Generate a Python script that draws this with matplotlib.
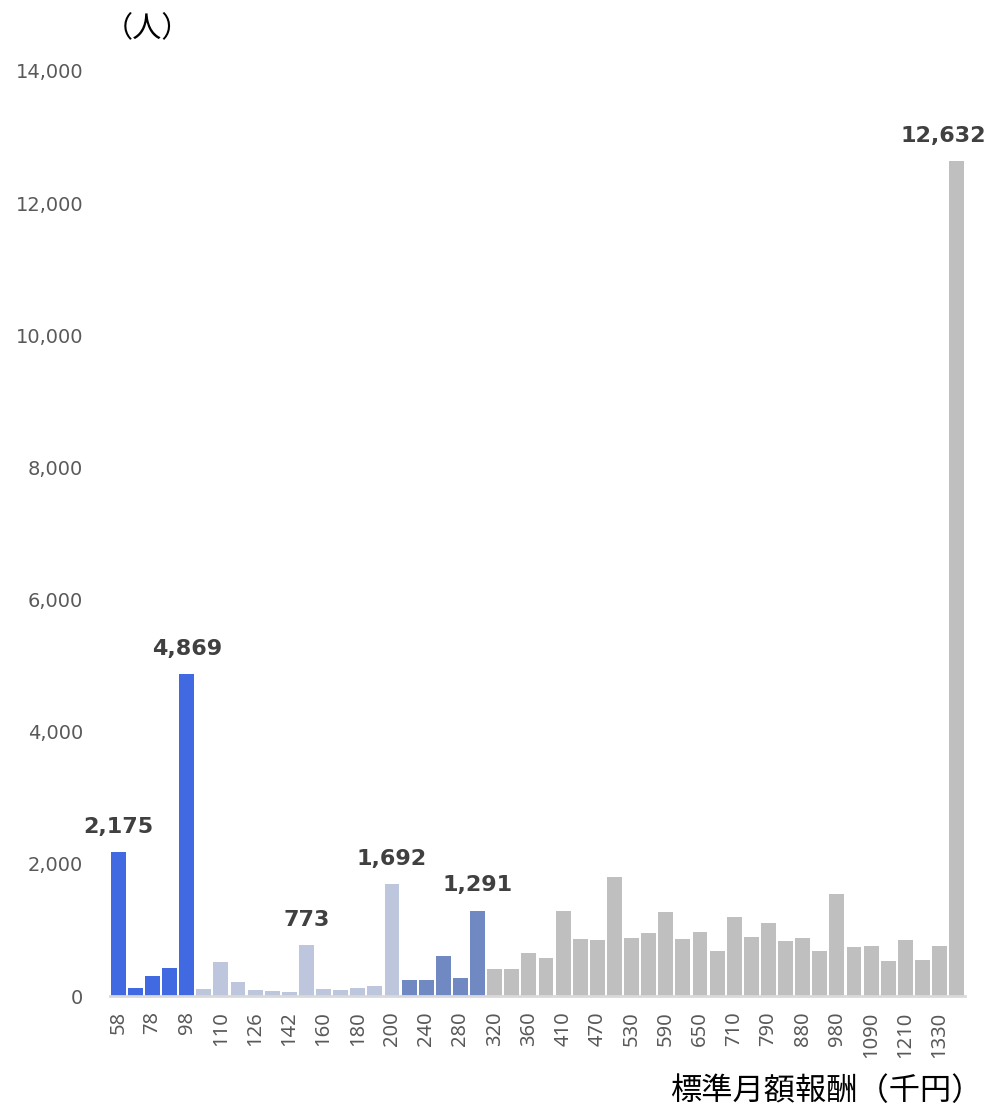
import matplotlib
matplotlib.use("Agg")
import matplotlib.pyplot as plt
import numpy as np

# 標準月額報酬の等級（千円）
grades = [58, 68, 78, 88, 98, 104, 110, 118, 126, 134, 142, 150, 160, 170,
          180, 190, 200, 220, 240, 260, 280, 300, 320, 340, 360, 380, 410,
          440, 470, 500, 530, 560, 590, 620, 650, 680, 710, 750, 790, 830,
          880, 930, 980, 1030, 1090, 1150, 1210, 1270, 1330, 1390]

# 人数
counts = [2175, 116, 298, 419, 4869, 101, 510, 207, 86, 71, 56, 773, 101, 86,
          116, 147, 1692, 238, 238, 601, 268, 1291, 404, 404, 646, 571, 1282,
          858, 843, 1797, 873, 949, 1267, 858, 964, 677, 1191, 888, 1100, 828,
          873, 677, 1539, 737, 752, 525, 843, 540, 752, 12632]

labeled = [58, 98, 150, 200, 300, 1390]
yticks = [0, 2000, 4000, 6000, 8000, 10000, 12000, 14000]

plt.rcParams["font.family"] = ["DejaVu Sans", "Noto Sans CJK JP"]
cjk = ["Noto Sans CJK JP", "DejaVu Sans"]


def bar_color(g):
    if g <= 98:
        return "#4169E1"
    if g <= 200:
        return "#BDC6DD"
    if g <= 300:
        return "#7189C3"
    return "#BFBFBF"


fig = plt.figure(figsize=(9.88, 11.16), dpi=100)
ax = fig.add_axes([0.111, 0.1075, 0.866, 0.829])

x = np.arange(len(grades))
colors = [bar_color(g) for g in grades]
ax.bar(x, counts, width=0.87, color=colors)

for i, (g, c) in enumerate(zip(grades, counts)):
    if g in labeled:
        dx = -10 if i == len(grades) - 1 else 0
        ax.annotate(f"{c:,}", (i, c), xytext=(dx, 11), textcoords="offset points",
                    ha="center", va="bottom", fontsize=16, fontweight="bold",
                    color="#404040")

ax.set_xlim(-0.5, len(grades) - 0.5)
ax.set_ylim(0, 14000)
ax.set_yticks(yticks)
ax.set_yticklabels([f"{v:,}" for v in yticks])
ax.set_xticks(x[::2])
ax.set_xticklabels([str(g) for g in grades[::2]], rotation=90, family="Noto Sans")
ax.tick_params(axis="y", length=0, pad=19, labelsize=14, labelcolor="#595959")
ax.tick_params(axis="x", length=0, pad=11, labelsize=14.5, labelcolor="#595959")

for s in ["top", "right", "left"]:
    ax.spines[s].set_visible(False)
ax.spines["bottom"].set_color("#D9D9D9")
ax.spines["bottom"].set_linewidth(2)

fig.text(0.149, 0.974, "（人）", ha="center", va="center", fontsize=21,
         family=cjk, color="#000000")
fig.text(0.994, 0.008, "標準月額報酬（千円）", ha="right", va="bottom",
         fontsize=22.5, family=cjk, color="#000000")

fig.savefig("out.png", dpi=100)
